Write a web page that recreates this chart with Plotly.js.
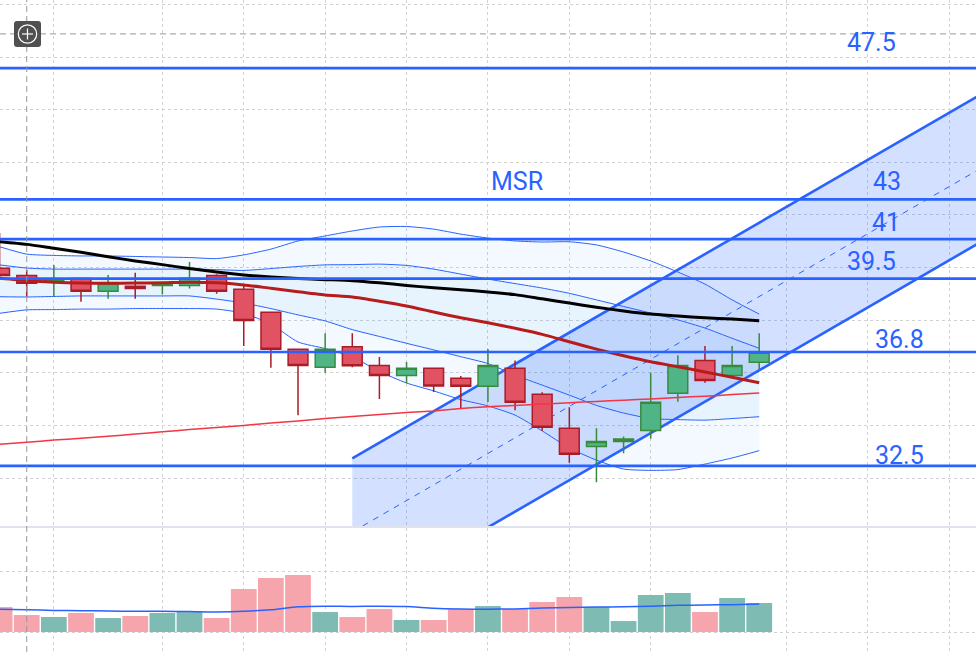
<!DOCTYPE html>
<html>
<head>
<meta charset="utf-8">
<script src="https://cdn.plot.ly/plotly-3.0.1.min.js"></script>
<style>
html,body{margin:0;padding:0;background:#ffffff;}
#chart{width:976px;height:652px;}
</style>
</head>
<body>
<div id="chart"></div>
<script>
// ---------- DATA ----------
const candleIndex = [0,1,2,3,4,5,6,7,8,9,10,11,12,13,14,15,16,17,18,19,20,21,22,23,24,25,26,27,28];

const openP  = [39.97,39.70,39.48,39.58,39.10,39.29,39.32,39.32,39.70,39.17,38.30,36.89,36.21,36.99,36.28,35.90,36.17,35.79,35.49,36.17,35.18,33.89,33.20,33.39,33.81,35.22,36.47,35.90,36.40];
const highP  = [41.31,39.91,40.10,39.60,39.72,39.80,39.42,40.21,39.74,39.30,38.33,36.92,37.50,37.50,36.60,36.41,36.20,35.88,36.90,36.47,35.26,34.69,33.89,33.58,36.00,36.67,37.02,37.02,37.50];
const lowP   = [39.64,38.89,38.89,38.70,38.81,38.81,38.98,39.20,39.00,37.02,36.19,34.39,36.00,36.21,35.00,35.60,35.27,34.62,34.89,34.58,33.80,32.58,31.84,32.94,33.49,34.90,35.62,35.79,36.10];
const closeP = [39.70,39.40,39.53,39.10,39.40,39.20,39.40,39.59,39.10,37.99,36.89,36.28,36.89,36.27,35.90,36.17,35.50,35.49,36.28,34.88,33.93,32.90,33.39,33.48,34.88,36.28,35.71,36.28,36.78];

// moving averages
const maLong  = [40.98,40.88,40.73,40.58,40.41,40.25,40.11,39.96,39.83,39.72,39.64,39.58,39.54,39.50,39.42,39.32,39.23,39.16,39.07,38.97,38.81,38.65,38.49,38.35,38.23,38.16,38.09,38.04,37.98];
const maMid   = [39.59,39.50,39.44,39.41,39.40,39.41,39.42,39.44,39.42,39.34,39.21,39.08,38.96,38.88,38.72,38.54,38.31,38.09,37.90,37.69,37.46,37.18,36.90,36.65,36.42,36.23,36.03,35.83,35.62];
const maSlow  = [33.28,33.36,33.44,33.51,33.59,33.67,33.76,33.84,33.92,34.00,34.09,34.17,34.26,34.34,34.41,34.49,34.55,34.64,34.71,34.76,34.81,34.86,34.91,34.96,35.00,35.06,35.11,35.17,35.23];

// Bollinger bands (outer and inner)
const bbOuterUp = [40.79,40.51,40.46,40.44,40.44,40.42,40.40,40.38,40.34,40.48,40.70,41.01,41.20,41.39,41.54,41.56,41.46,41.27,41.12,41.01,40.97,40.98,40.86,40.59,40.25,39.83,39.37,38.77,38.23];
const bbInnerUp = [40.10,39.98,39.94,39.94,39.94,39.94,39.94,39.94,39.92,39.89,39.96,40.04,40.10,40.11,40.13,40.08,39.94,39.75,39.56,39.39,39.22,39.02,38.77,38.52,38.27,38.01,37.70,37.31,36.93];
const bbInnerLo = [38.89,38.88,38.90,38.92,38.92,38.92,38.92,38.92,38.80,38.65,38.44,38.20,37.97,37.64,37.38,37.12,36.87,36.61,36.35,35.91,35.53,35.15,34.76,34.47,34.26,34.22,34.20,34.26,34.33];
const bbOuterLo = [38.26,38.39,38.40,38.42,38.42,38.44,38.44,38.44,38.42,38.26,37.85,37.17,36.92,36.60,36.05,35.61,35.31,34.98,34.74,34.39,33.79,33.14,32.68,32.34,32.29,32.32,32.53,32.76,33.04];

// volume (grid line = 1.0)
const volume   = [0.417,0.283,0.250,0.317,0.233,0.267,0.317,0.344,0.233,0.717,0.900,0.950,0.333,0.250,0.383,0.200,0.200,0.383,0.433,0.383,0.500,0.583,0.417,0.183,0.617,0.650,0.333,0.567,0.483];
const volumeMA = [0.380,0.370,0.360,0.355,0.350,0.345,0.345,0.340,0.335,0.345,0.370,0.420,0.430,0.425,0.430,0.425,0.395,0.383,0.380,0.385,0.400,0.410,0.415,0.420,0.430,0.445,0.450,0.455,0.465];

// regression channel (start / extended end)
const channelX     = [13, 36.3];
const channelUpper = [32.75, 46.66];
const channelMid   = [29.95, 43.85];
const channelLower = [27.14, 41.05];

// horizontal levels
const levelPrices = [47.58, 42.59, 41.08, 39.58, 36.79, 32.46];
const levelLabels = ['47.5', '43', '41', '39.5', '36.8', '32.5'];
const msrLabel = 'MSR';

// crosshair
const crossX = 1;
const crossY = 48.88;

// grid ticks
const timeGrid  = [2,6,9,12,15,18,21,24,29,32,35];
const priceGrid = [32,34,36,38,40,42,44,46,48,50];
const volGrid   = [0,1];

// ---------- STYLE / LAYOUT ----------
const W = 976, H = 652;
const px = x => x / W;
const py = y => 1 - y / H;

const BLUE = '#2962ff';
const bbFill = 'rgba(33,150,243,0.055)';
const sp = {shape:'spline', smoothing:0.6};
const PRICE_RANGE = [30.176, 50.168];

const volColors = closeP.map((c,i) => c >= openP[i] ? '#7ebcb3' : '#f5a5ab');

const traces = [
  // outer Bollinger band
  {x:candleIndex, y:bbOuterLo, type:'scatter', mode:'lines', line:Object.assign({color:BLUE,width:1},sp), hoverinfo:'skip'},
  {x:candleIndex, y:bbOuterUp, type:'scatter', mode:'lines', fill:'tonexty', fillcolor:bbFill, line:Object.assign({color:BLUE,width:1},sp), hoverinfo:'skip'},
  // inner Bollinger band
  {x:candleIndex, y:bbInnerLo, type:'scatter', mode:'lines', line:Object.assign({color:BLUE,width:1},sp), hoverinfo:'skip'},
  {x:candleIndex, y:bbInnerUp, type:'scatter', mode:'lines', fill:'tonexty', fillcolor:bbFill, line:Object.assign({color:BLUE,width:1},sp), hoverinfo:'skip'},
  // regression channel
  {x:channelX, y:channelLower, type:'scatter', mode:'lines', line:{color:BLUE,width:2.6}, hoverinfo:'skip'},
  {x:channelX, y:channelUpper, type:'scatter', mode:'lines', fill:'tonexty', fillcolor:'rgba(41,98,255,0.2)', line:{color:BLUE,width:2.6}, hoverinfo:'skip'},
  {x:channelX, y:channelMid, type:'scatter', mode:'lines', line:{color:BLUE,width:1,dash:'6px,6px'}, hoverinfo:'skip'},
  // candles (overlay subplot so they sit above the fills)
  {x:candleIndex, open:openP, high:highP, low:lowP, close:closeP, type:'candlestick', yaxis:'y3',
   increasing:{line:{color:'#3a8a3e',width:1.5}, fillcolor:'#50b586'},
   decreasing:{line:{color:'#a91c28',width:1.5}, fillcolor:'#e15263'},
   whiskerwidth:0, hoverinfo:'skip'},
  // moving averages
  {x:candleIndex, y:maSlow, type:'scatter', mode:'lines', yaxis:'y3', line:Object.assign({color:'#f23645',width:1.5},sp), hoverinfo:'skip'},
  {x:candleIndex, y:maMid, type:'scatter', mode:'lines', yaxis:'y3', line:Object.assign({color:'#b71c1c',width:3},sp), hoverinfo:'skip'},
  {x:candleIndex, y:maLong, type:'scatter', mode:'lines', yaxis:'y3', line:Object.assign({color:'#000000',width:3},sp), hoverinfo:'skip'},
  // volume
  {x:candleIndex, y:volume, type:'bar', yaxis:'y2', marker:{color:volColors, line:{width:0}}, hoverinfo:'skip'},
  {x:candleIndex, y:volumeMA, type:'scatter', mode:'lines', yaxis:'y2', line:Object.assign({color:BLUE,width:1.5},sp), hoverinfo:'skip'}
];

const shapes = [];
// pane separator
shapes.push({type:'line', xref:'paper', yref:'paper', x0:0, x1:1, y0:py(527), y1:py(527), line:{color:'#e0e3eb', width:2}, layer:'above'});
// levels
levelPrices.forEach(p => shapes.push({type:'line', xref:'paper', yref:'y', x0:0, x1:1, y0:p, y1:p, line:{color:BLUE, width:2.6}, layer:'above'}));
// crosshair
shapes.push({type:'line', xref:'x', yref:'paper', x0:crossX, x1:crossX, y0:0, y1:1, line:{color:'#9598a1', width:1, dash:'6px,4px'}, layer:'above'});
shapes.push({type:'line', xref:'paper', yref:'y', x0:0, x1:1, y0:crossY, y1:crossY, line:{color:'#9598a1', width:1, dash:'6px,4px'}, layer:'above'});
// crosshair icon (rounded square with circled plus)
(function(){
  const x0=14, x1=41, y0=21, y1=47, r=3;
  const P = (x,y) => px(x)+','+py(y);
  const path = 'M'+P(x0+r,y0)+' L'+P(x1-r,y0)+' Q'+P(x1,y0)+' '+P(x1,y0+r)+' L'+P(x1,y1-r)+' Q'+P(x1,y1)+' '+P(x1-r,y1)+
               ' L'+P(x0+r,y1)+' Q'+P(x0,y1)+' '+P(x0,y1-r)+' L'+P(x0,y0+r)+' Q'+P(x0,y0)+' '+P(x0+r,y0)+' Z';
  shapes.push({type:'path', xref:'paper', yref:'paper', path:path, fillcolor:'#505050', line:{width:0}, layer:'above'});
  const cx=27.5, cy=34, cr=9.2;
  shapes.push({type:'circle', xref:'paper', yref:'paper', x0:px(cx-cr), x1:px(cx+cr), y0:py(cy+cr), y1:py(cy-cr), line:{color:'#ffffff', width:1.2}, layer:'above'});
  shapes.push({type:'line', xref:'paper', yref:'paper', x0:px(cx-5.5), x1:px(cx+5.5), y0:py(cy), y1:py(cy), line:{color:'#ffffff', width:1.2}, layer:'above'});
  shapes.push({type:'line', xref:'paper', yref:'paper', x0:px(cx), x1:px(cx), y0:py(cy-5.5), y1:py(cy+5.5), line:{color:'#ffffff', width:1.2}, layer:'above'});
})();

// label placement (pixel centres)
const labelPos = [[871.5,42.5],[886.5,181],[885.5,222.5],[871.5,261],[899.7,339.3],[899.7,455]];
const labelFont = {family:'Roboto, "Noto Sans", sans-serif', size:25, color:BLUE};
const annotations = levelLabels.map((t,i) => ({xref:'paper', yref:'paper', x:px(labelPos[i][0]), y:py(labelPos[i][1]),
  text:t, showarrow:false, xanchor:'center', yanchor:'middle', font:labelFont}));
annotations.push({xref:'paper', yref:'paper', x:px(517), y:py(181), text:msrLabel, showarrow:false, xanchor:'center', yanchor:'middle', font:labelFont});

const gridStyle = {showgrid:true, gridcolor:'#d2d2d2', gridwidth:1, griddash:'dot', zeroline:false, showline:false, ticks:'', showticklabels:false, fixedrange:true};

const layout = {
  width:W, height:H,
  margin:{l:0, r:0, t:0, b:0, pad:0},
  paper_bgcolor:'#ffffff', plot_bgcolor:'#ffffff',
  showlegend:false,
  boxgap:0.27, boxgroupgap:0,
  bargap:0.05,
  hovermode:false,
  xaxis:Object.assign({range:[0.015, 35.99], tickmode:'array', tickvals:timeGrid, rangeslider:{visible:false}}, gridStyle),
  yaxis:Object.assign({domain:[py(526), 1], range:PRICE_RANGE, tickmode:'array', tickvals:priceGrid}, gridStyle),
  yaxis2:Object.assign({domain:[0, py(528)], range:[-0.333, 1.733], tickmode:'array', tickvals:volGrid}, gridStyle),
  yaxis3:{overlaying:'y', range:PRICE_RANGE, showgrid:false, zeroline:false, showline:false, ticks:'', showticklabels:false, fixedrange:true},
  shapes:shapes,
  annotations:annotations
};

Plotly.newPlot('chart', traces, layout, {staticPlot:true, displayModeBar:false});
</script>
</body>
</html>
